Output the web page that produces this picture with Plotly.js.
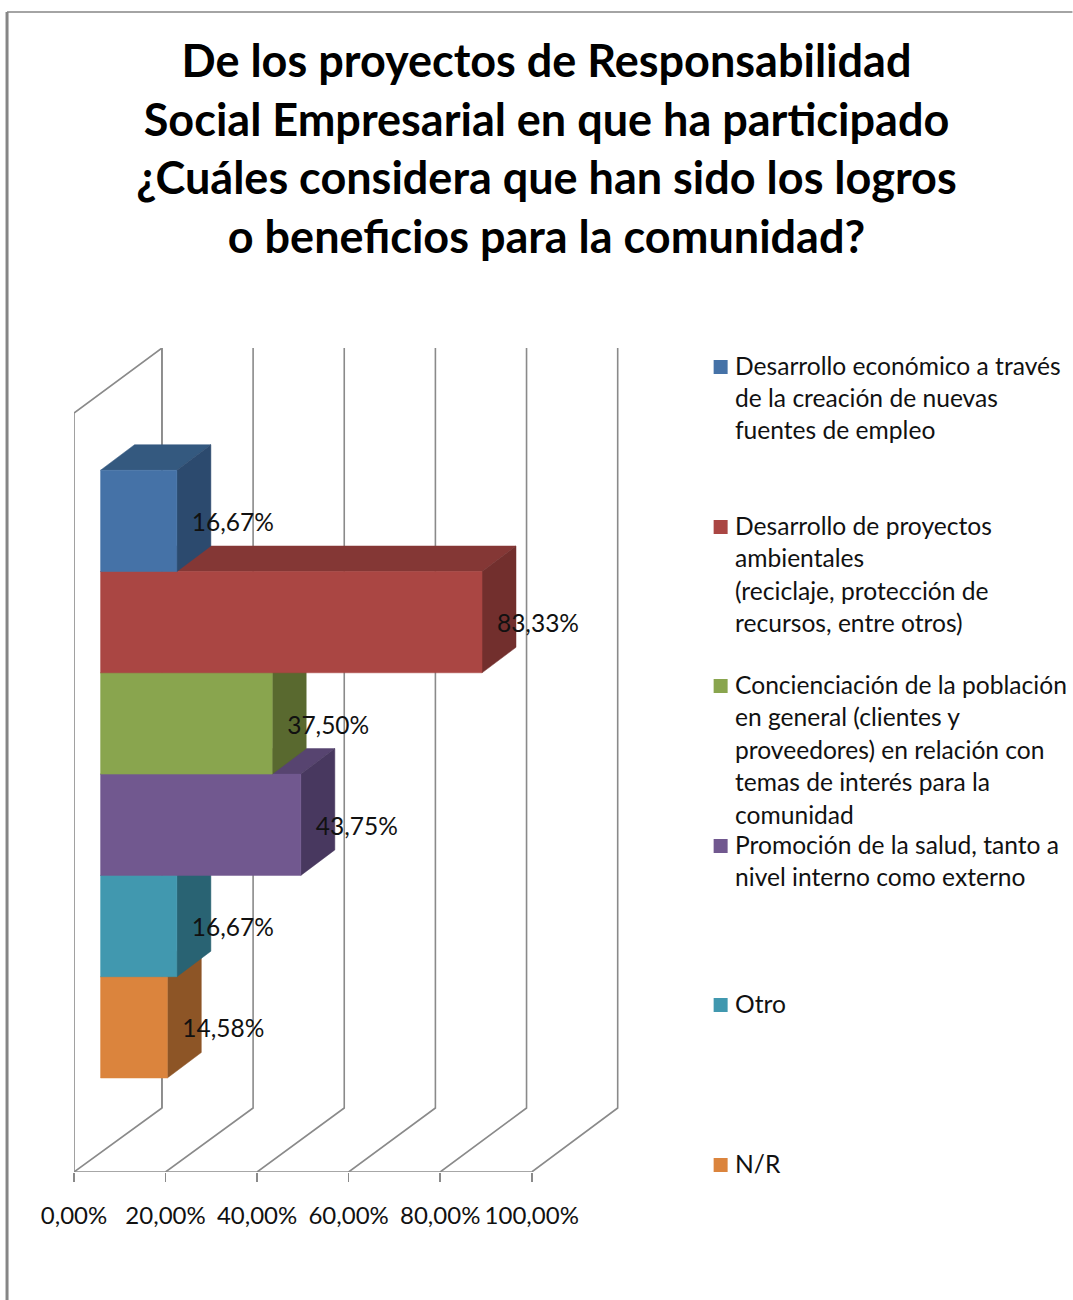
<!DOCTYPE html>
<html><head><meta charset="utf-8">
<script src="https://cdn.plot.ly/plotly-3.0.1.min.js"></script>
<style>html,body{margin:0;padding:0;background:#fff}#c{width:1073px;height:1300px}</style>
</head><body><div id="c"></div>
<script>
const categories = ["Desarrollo económico a través de la creación de nuevas fuentes de empleo","Desarrollo de proyectos ambientales (reciclaje, protección de recursos, entre otros)","Concienciación de la población en general (clientes y proveedores) en relación con temas de interés para la comunidad","Promoción de la salud, tanto a nivel interno como externo","Otro","N/R"];
const values = [16.67, 83.33, 37.50, 43.75, 16.67, 14.58];
const legendLines = [
  ["Desarrollo económico a través","de la creación de nuevas","fuentes de empleo"],
  ["Desarrollo de proyectos","ambientales","(reciclaje, protección de","recursos, entre otros)"],
  ["Concienciación de la población","en general (clientes y","proveedores) en relación con","temas de interés para la","comunidad"],
  ["Promoción de la salud, tanto a","nivel interno como externo"],
  ["Otro"],
  ["N/R"]
];
const tickValues = [0,20,40,60,80,100];
const tickLabels = ["0,00%","20,00%","40,00%","60,00%","80,00%","100,00%"];
const frontColors = ["#4572A7","#AA4643","#89A54E","#71588F","#4198AF","#DB843D"];
const topColors   = ["#34597F","#843735","#6B803C","#574470","#327688","#AA672F"];
const sideColors  = ["#2C4A6E","#722F2D","#59692F","#48385F","#296373","#8D5526"];
const titleLines = ["De los proyectos de Responsabilidad","Social Empresarial en que ha participado","¿Cuáles considera que han sido los logros","o beneficios para la comunidad?"];

// geometry of the oblique projection
const W=1073,H=1300, pxX=4.58, pxY=101.4, left=74, top_=348, floor=1172;
const xMax=119.5, yMax=(floor-top_)/pxY;
const plotW=xMax*pxX, plotH=floor-top_;
const wallDX=88/pxX, wallDY=64/pxY, wallTopFront=(floor-413)/pxY, backScale=4.56/4.58;
const barX0=26.6/pxX, barDX=34/pxX, barDY=25.5/pxY, barBottom=(floor-1078)/pxY, labelGap=56/pxX, barH=101.3/pxY, labelDrop=4/pxY;
const fontFamily="Lato, 'Noto Sans', sans-serif";
const axisFont={family:fontFamily,size:24,color:"#111"};
const labelFont={family:fontFamily,size:24.5,color:"#111"};
const legendFont={family:fontFamily,size:24.6,color:"#111"};

const traces=[];
const gridColor="#8a8a8a";
function line(xs,ys){traces.push({type:"scatter",mode:"lines",x:xs,y:ys,cliponaxis:false,hoverinfo:"skip",showlegend:false,line:{color:gridColor,width:1.6}});}
tickValues.forEach(k=>{ const bx=k*backScale+wallDX; line([k,bx,bx],[0,wallDY,yMax]); });
line([0,0,wallDX,wallDX],[0,wallTopFront,yMax,wallDY]);
line([0,100],[0,0]);
function poly(xs,ys,color,name){traces.push({type:"scatter",mode:"lines",fill:"toself",x:xs,y:ys,fillcolor:color,cliponaxis:false,line:{color:color,width:0.5},name:name,hoverinfo:"skip",showlegend:false});}
const n=values.length;
for(let i=n-1;i>=0;i--){
  const b=barBottom+(n-1-i)*barH, t=b+barH, x0=barX0, x1=barX0+values[i];
  poly([x0,x0+barDX,x1+barDX,x1,x0],[t,t+barDY,t+barDY,t,t],topColors[i],categories[i]);
  poly([x1,x1+barDX,x1+barDX,x1,x1],[t,t+barDY,b+barDY,b,t],sideColors[i],categories[i]);
  poly([x0,x1,x1,x0,x0],[b,b,t,t,b],frontColors[i],categories[i]);
}
traces.push({type:"scatter",mode:"text",cliponaxis:false,hoverinfo:"skip",showlegend:false,
  x:values.map(v=>barX0+v+labelGap),
  y:values.map((v,i)=>barBottom+(n-1-i+0.5)*barH-labelDrop),
  text:values.map(v=>v.toFixed(2).replace(".",",")+"%"),
  textposition:"middle center",textfont:labelFont});

const px=x=>(x-left)/plotW, py=y=>(floor-y)/plotH;
const legendFirstLine=[367,527,686,846,1005,1165];
const legendTextShift=-2, lineStep=32.5, swatch=14, textX=734, swatchX=714;
const annotations=[], shapes=[];
legendLines.forEach((ls,i)=>{
  ls.forEach((s,j)=>annotations.push({xref:"paper",yref:"paper",x:px(textX),y:py(legendFirstLine[i]+legendTextShift+j*lineStep),xanchor:"left",yanchor:"middle",text:s,showarrow:false,borderpad:0,font:legendFont}));
  shapes.push({type:"rect",xref:"paper",yref:"paper",x0:px(swatchX),x1:px(swatchX+swatch),y0:py(legendFirstLine[i]-swatch/2),y1:py(legendFirstLine[i]+swatch/2),fillcolor:frontColors[i],line:{width:0}});
});
shapes.push({type:"line",xref:"paper",yref:"paper",x0:px(7),x1:px(1073),y0:py(12),y1:py(12),line:{color:"#868686",width:1.5}});
shapes.push({type:"line",xref:"paper",yref:"paper",x0:px(7),x1:px(7),y0:py(12),y1:py(1300),line:{color:"#868686",width:3}});

Plotly.newPlot("c",traces,{
  width:W,height:H,showlegend:false,
  paper_bgcolor:"#fff",plot_bgcolor:"rgba(0,0,0,0)",
  margin:{l:left,t:top_,r:W-left-plotW,b:H-floor,pad:0,autoexpand:false},
  title:{text:titleLines.join("<br>"),x:546.5/W,xanchor:"center",y:1-77/H,yref:"container",yanchor:"top",
    font:{family:fontFamily,size:45,weight:700,color:"#000"}},
  xaxis:{range:[0,xMax],tickmode:"array",tickvals:tickValues,ticktext:tickLabels,ticks:"outside",ticklen:9,tickwidth:1.6,tickcolor:gridColor,showgrid:false,zeroline:false,showline:false,tickfont:axisFont,ticklabelstandoff:13,automargin:false},
  yaxis:{range:[0,yMax],showticklabels:false,ticks:"",showgrid:false,zeroline:false,showline:false,automargin:false},
  annotations:annotations,shapes:shapes
},{displayModeBar:false,staticPlot:true});
</script></body></html>
